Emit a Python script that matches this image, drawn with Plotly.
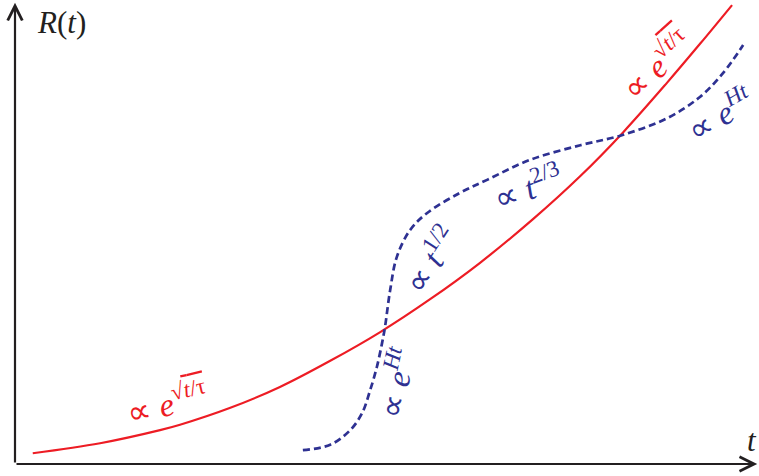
import plotly.graph_objects as go

# Scale factor R(t): smooth red curve, proportional to exp(sqrt(t/tau))
red_t = [0.24, 1.15, 1.96, 2.23, 2.91, 3.58, 4.26, 4.93, 5.61, 6.28, 7.0, 7.64, 8.22, 8.81, 9.26, 9.69]
red_R = [0.14, 0.27, 0.44, 0.51, 0.73, 1.0, 1.34, 1.71, 2.14, 2.61, 3.18, 3.74, 4.31, 4.95, 5.46, 5.96]

# Standard history: inflation, radiation, matter, dark-energy eras (dashed blue)
blue_t = [3.89, 4.26, 4.53, 4.69, 4.80, 4.89, 4.96, 5.0, 5.07, 5.16, 5.34, 5.57, 6.01, 6.38, 6.96,
          7.64, 8.20, 8.81, 9.26, 9.57, 9.84]
blue_R = [0.18, 0.25, 0.44, 0.66, 0.96, 1.26, 1.57, 1.78, 2.26, 2.69, 3.04, 3.26, 3.52, 3.69, 3.95,
          4.14, 4.27, 4.49, 4.77, 5.08, 5.44]

RED = "#ed1c24"
BLUE = "#2e3192"
AXIS = "#231f20"
FONT = "Liberation Serif"

ROOT = '√<span style="text-decoration:overline"><i>t</i>/τ</span>'
labels = [
    # (t, R, text, angle, colour)
    (2.05, 0.81, f"∝ <i>e</i><sup>{ROOT}</sup>", -13, RED),
    (5.14, 1.06, "∝ <i>e</i><sup><i>Ht</i></sup>", -78, BLUE),
    (5.61, 2.66, "∝ <i>t</i><sup>1/2</sup>", -57, BLUE),
    (6.93, 3.61, "∝ <i>t</i><sup>2/3</sup>", -20, BLUE),
    (8.66, 5.20, f"∝ <i>e</i><sup>{ROOT}</sup>", -42, RED),
    (9.52, 4.56, "∝ <i>e</i><sup><i>Ht</i></sup>", -30, BLUE),
]

fig = go.Figure()
fig.add_trace(go.Scatter(x=red_t, y=red_R, mode="lines",
                         line=dict(color=RED, width=2.2, shape="spline", smoothing=1.0),
                         hoverinfo="skip"))
fig.add_trace(go.Scatter(x=blue_t, y=blue_R, mode="lines",
                         line=dict(color=BLUE, width=2.7, dash="7px,4px", shape="spline", smoothing=1.0),
                         hoverinfo="skip"))

annotations = []
# axis arrows
annotations.append(dict(x=10.03, y=0, ax=0, ay=0, xref="x", yref="y", axref="x", ayref="y",
                        showarrow=True, arrowhead=5, arrowsize=1.3, arrowwidth=2.2,
                        arrowcolor=AXIS, text=""))
annotations.append(dict(x=0, y=5.99, ax=0, ay=0, xref="x", yref="y", axref="x", ayref="y",
                        showarrow=True, arrowhead=5, arrowsize=1.3, arrowwidth=2.2,
                        arrowcolor=AXIS, text=""))
# axis titles
annotations.append(dict(x=0.63, y=5.74, xref="x", yref="y", showarrow=False,
                        text="<i>R</i>(<i>t</i>)", font=dict(family=FONT, size=31, color=AXIS)))
annotations.append(dict(x=9.96, y=0.31, xref="x", yref="y", showarrow=False,
                        text="<i>t</i>", font=dict(family=FONT, size=31, color=AXIS)))

for t, r, txt, ang, col in labels:
    annotations.append(dict(x=t, y=r, xref="x", yref="y", showarrow=False, text=txt,
                            textangle=ang, font=dict(family=FONT, size=33, color=col)))

fig.update_layout(
    width=759, height=476,
    margin=dict(l=0, r=0, t=0, b=0),
    paper_bgcolor="white", plot_bgcolor="white",
    showlegend=False,
    xaxis=dict(range=[-0.2027, 10.054], visible=False, fixedrange=True),
    yaxis=dict(range=[-0.1558, 6.026], visible=False, fixedrange=True),
    annotations=annotations,
)

fig.write_html("out.html")
